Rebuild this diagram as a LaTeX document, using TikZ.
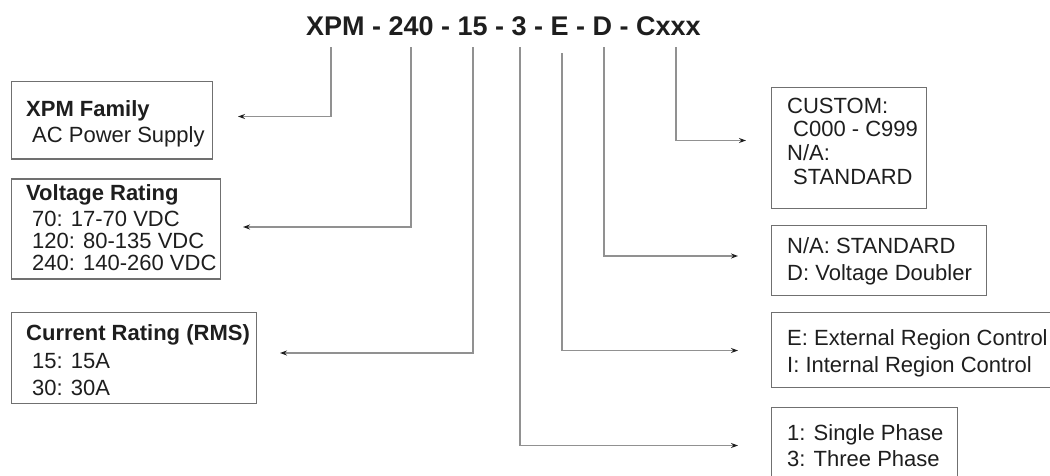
\documentclass[tikz,border=0pt]{standalone}
\usepackage{fontspec}
\setmainfont{Liberation Sans}
\usetikzlibrary{arrows.meta}
\definecolor{boxc}{RGB}{112,112,112}
\definecolor{linec}{RGB}{145,145,145}
\definecolor{txt}{RGB}{30,30,30}
\tikzset{
  box/.style={draw=boxc, line width=1.2pt, inner sep=0pt, anchor=north west},
  lbl/.style={anchor=base west, inner sep=0pt, text=txt, font=\fontsize{22}{26}\selectfont},
  hdr/.style={lbl, font=\bfseries\fontsize{22}{26}\selectfont},
  conn/.style={draw=linec, line width=1.2pt, -{Stealth[length=7pt,width=5pt,color=txt]}}
}
\begin{document}
\begin{tikzpicture}[x=1pt,y=-1pt]
\useasboundingbox (0,0) rectangle (1050,475);
% title
\node[anchor=base, inner sep=0pt, text=txt, font=\bfseries\fontsize{27}{32}\selectfont] (code) at (503.5,35) {XPM - 240 - 15 - 3 - E - D - Cxxx};
% left boxes
\node[box, minimum width=201pt, minimum height=77.6pt] (bxpm) at (10.5,80.7) {};
\node[hdr] (xpm1) at (26,116.7) {XPM Family};
\node[lbl] (xpm2) at (32,142.7) {AC Power Supply};

\node[box, minimum width=209.5pt, minimum height=100pt] (bvolt) at (10.5,178.3) {};
\node[hdr] (v1) at (26,200.7) {Voltage Rating};
\node[lbl] (v2) at (32,226.7) {70: 17-70 VDC};
\node[lbl] (v3) at (32,248.3) {120: 80-135 VDC};
\node[lbl] (v4) at (32,270) {240: 140-260 VDC};

\node[box, minimum width=245.2pt, minimum height=90.8pt] (bcur) at (10.5,311.7) {};
\node[hdr] (c1) at (26,340.7) {Current Rating (RMS)};
\node[lbl] (c2) at (32,368.3) {15: 15A};
\node[lbl] (c3) at (32,395) {30: 30A};

% right boxes
\node[box, minimum width=155pt, minimum height=121pt] (bcus) at (770.7,86.7) {};
\node[lbl] (cu1) at (787,113.3) {CUSTOM:};
\node[lbl] (cu2) at (793,136.7) {C000 - C999};
\node[lbl] (cu3) at (787,160) {N/A:};
\node[lbl] (cu4) at (793,184) {STANDARD};

\node[box, minimum width=215.3pt, minimum height=70pt] (bdbl) at (770.7,225) {};
\node[lbl] (d1) at (787,253) {N/A: STANDARD};
\node[lbl] (d2) at (787,280) {D: Voltage Doubler};

\node[box, minimum width=290pt, minimum height=75pt] (breg) at (770.7,311.7) {};
\node[lbl] (e1) at (787,345) {E: External Region Control};
\node[lbl] (e2) at (787,372) {I: Internal Region Control};

\node[box, minimum width=186.3pt, minimum height=80pt] (bph) at (770.7,406.7) {};
\node[lbl] (p1) at (787,440) {1: Single Phase};
\node[lbl] (p2) at (787,466.7) {3: Three Phase};

% connector ends
\coordinate (s1) at (331,47);   \coordinate (a1) at (238,116.5);
\coordinate (s2) at (411,47);   \coordinate (a2) at (243,227);
\coordinate (s3) at (473,47);   \coordinate (a3) at (280,353);
\coordinate (s4) at (520,47);   \coordinate (a4) at (738,445.5);
\coordinate (s5) at (562,53);   \coordinate (a5) at (738,350.5);
\coordinate (s6) at (604,47);   \coordinate (a6) at (738,256);
\coordinate (s7) at (676,47);   \coordinate (a7) at (746,140.5);

\draw[conn] (s1) |- (a1);
\draw[conn] (s2) |- (a2);
\draw[conn] (s3) |- (a3);
\draw[conn] (s4) |- (a4);
\draw[conn] (s5) |- (a5);
\draw[conn] (s6) |- (a6);
\draw[conn] (s7) |- (a7);
\end{tikzpicture}
\end{document}
